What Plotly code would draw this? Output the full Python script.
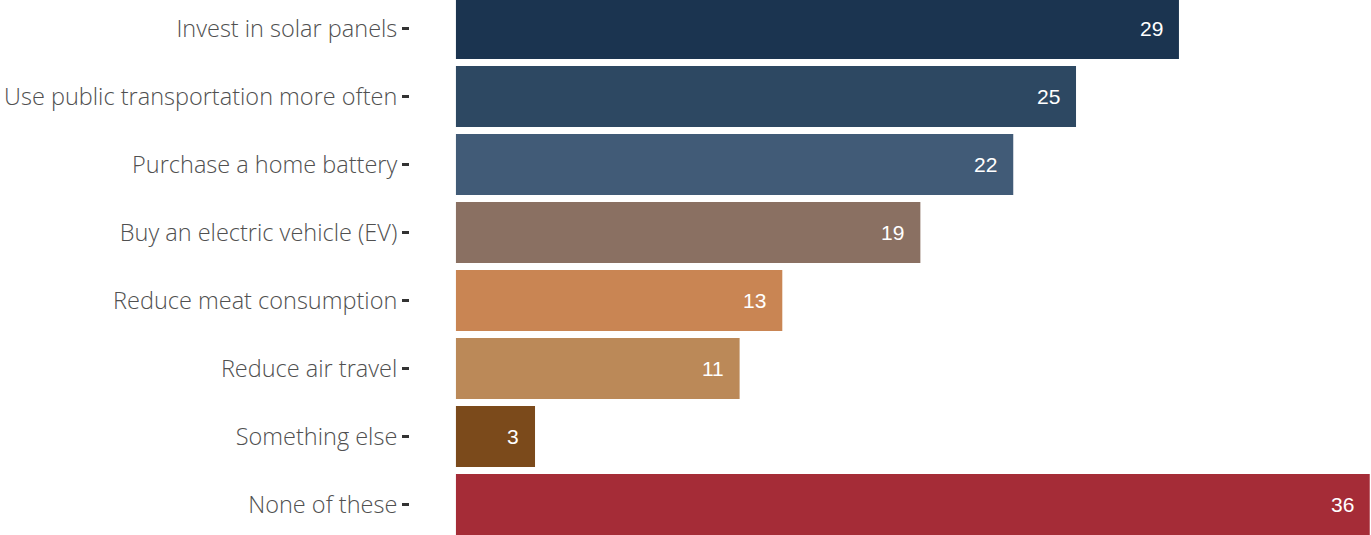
import plotly.graph_objects as go

categories = [
    "Invest in solar panels",
    "Use public transportation more often",
    "Purchase a home battery",
    "Buy an electric vehicle (EV)",
    "Reduce meat consumption",
    "Reduce air travel",
    "Something else",
    "None of these",
]
values = [28.8, 24.7, 22.2, 18.5, 13.0, 11.3, 3.15, 36.4]
labels = ["29", "25", "22", "19", "13", "11", "3", "36"]
colors = ["#1b3450", "#2d4862", "#415b77", "#8a7062", "#c98553", "#bb8958", "#7b4a1b", "#a52c37"]

fig = go.Figure(
    go.Bar(
        x=values,
        y=categories,
        orientation="h",
        marker=dict(color=colors, line=dict(width=0)),
        hoverinfo="skip",
    )
)

for c, v, t in zip(categories, values, labels):
    fig.add_annotation(
        x=v, y=c, text=t, showarrow=False, xanchor="right", yanchor="middle",
        xshift=-14, font=dict(family="Liberation Sans, Arial", size=21, color="white"),
    )

label_font = dict(family="Open Sans, sans-serif", size=23.5, color="#505050", weight=300)

fig.update_layout(
    width=1371, height=535,
    margin=dict(l=410, r=0, t=0, b=0),
    paper_bgcolor="white", plot_bgcolor="white",
    bargap=0.103,
    showlegend=False,
    font=label_font,
)
fig.update_xaxes(
    range=[-1.83, 36.45], showgrid=False, zeroline=False, showticklabels=False,
    ticks="", showline=False,
)
fig.update_yaxes(
    categoryorder="array", categoryarray=categories,
    range=[7.449, -0.419], showgrid=False, zeroline=False, showline=False,
    ticks="outside", ticklen=7, tickwidth=2.5, tickcolor="#333333",
    tickfont=label_font,
    automargin=False,
)

fig.write_html(
    "out.html",
    config={"displayModeBar": False},
    post_script="document.body.style.margin='0';document.body.style.overflow='hidden';",
)
